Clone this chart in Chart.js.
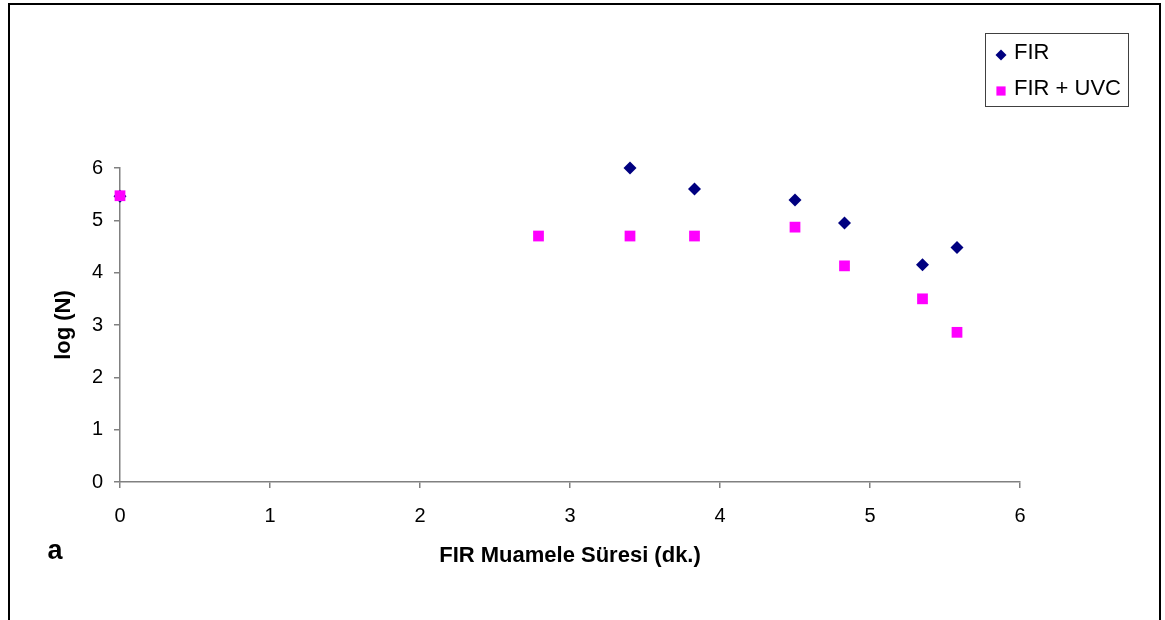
<!DOCTYPE html>
<html>
<head>
<meta charset="utf-8">
<script src="https://cdn.jsdelivr.net/npm/chart.js@4/dist/chart.umd.min.js"></script>
<style>
html,body{margin:0;padding:0;background:#fff;}
#wrap{width:1165px;height:620px;position:relative;}
</style>
</head>
<body>
<div id="wrap"><canvas id="scatterChart" width="1165" height="620"></canvas></div>
<script>
//FIR series
var firX=[0,3.4,3.83,4.5,4.83,5.35,5.58];
var firY=[5.46,6.0,5.6,5.39,4.95,4.15,4.48];
//FIR + UVC series
var uvcX=[0,2.79,3.4,3.83,4.5,4.83,5.35,5.58];
var uvcY=[5.47,4.7,4.7,4.7,4.87,4.13,3.5,2.86];
//ticks
var xTicks=[0,1,2,3,4,5,6];
var yTicks=[0,1,2,3,4,5,6];
var seriesNames=["FIR","FIR + UVC"];
var xTitle="FIR Muamele Süresi (dk.)";
var yTitle="log (N)";
var panelLabel="a";

var fontFamily="'Liberation Sans', Arial, sans-serif";

//x,y to points
var toPoints=function(xs,ys){
	var pts=[];
	for(var i=0;i<xs.length;i++){
		pts.push({x:xs[i],y:ys[i]});
	}
	return pts;
};

//frame, panel label and legend box
var framePlugin={
	id:'frame',
	afterDraw:function(chart){
		var ctx=chart.ctx;
		ctx.save();
		//outer frame
		ctx.strokeStyle="#000";
		ctx.lineWidth=2;
		ctx.strokeRect(9,4,1151,700);
		//panel label
		ctx.fillStyle="#000";
		ctx.font="bold 27px "+fontFamily;
		ctx.textAlign="center";
		ctx.textBaseline="middle";
		ctx.fillText(panelLabel,55,552);
		//legend box
		ctx.strokeStyle="#404040";
		ctx.lineWidth=1;
		ctx.strokeRect(985.5,33.5,143,73);
		ctx.font="22px "+fontFamily;
		ctx.textAlign="left";
		var rowsY=[53,89];
		var ds=chart.data.datasets;
		for(var i=0;i<ds.length;i++){
			ctx.fillStyle=ds[i].backgroundColor;
			ctx.strokeStyle=ds[i].backgroundColor;
			Chart.helpers.drawPoint(ctx,{pointStyle:ds[i].pointStyle,radius:i==0?5.5:6.5,borderWidth:0},1001,rowsY[i]+2);
			ctx.fillStyle="#000";
			ctx.fillText(ds[i].label,1014,rowsY[i]);
		}
		ctx.restore();
	}
};

var ctx=document.getElementById("scatterChart").getContext("2d");
var myChart=new Chart(ctx,{
	type:'scatter',
	data:{
		datasets:[
			{
				label:seriesNames[0],
				data:toPoints(firX,firY),
				pointStyle:'rectRot',
				pointRadius:6.5,
				backgroundColor:"#000080",
				borderColor:"#000080",
				borderWidth:0,
				order:2,
				clip:false
			},
			{
				label:seriesNames[1],
				data:toPoints(uvcX,uvcY),
				pointStyle:'rect',
				pointRadius:7.6,
				backgroundColor:"#ff00ff",
				borderColor:"#ff00ff",
				borderWidth:0,
				order:1,
				clip:false
			}
		]
	},
	plugins:[framePlugin],
	options:{
		responsive:false,
		animation:false,
		layout:{padding:{top:168,right:145,left:0,bottom:0}},
		plugins:{
			legend:{display:false},
			tooltip:{enabled:false}
		},
		scales:{
			x:{
				type:'linear',
				min:0,
				max:6,
				afterBuildTicks:function(scale){
					scale.ticks=xTicks.map(function(v){return {value:v};});
				},
				afterFit:function(scale){scale.height=138;},
				grid:{display:true,drawOnChartArea:false,drawTicks:true,tickLength:6,color:"#808080",lineWidth:1.5},
				border:{display:true,color:"#808080",width:1.5},
				ticks:{color:"#000",padding:16,maxRotation:0,font:{family:fontFamily,size:20}},
				title:{display:true,text:xTitle,color:"#000",padding:{top:51,bottom:51},font:{family:fontFamily,size:22,weight:'bold'}}
			},
			y:{
				type:'linear',
				min:0,
				max:6,
				afterBuildTicks:function(scale){
					scale.ticks=yTicks.map(function(v){return {value:v};});
				},
				afterFit:function(scale){scale.width=120;},
				grid:{display:true,drawOnChartArea:false,drawTicks:true,tickLength:6,color:"#808080",lineWidth:1.5},
				border:{display:true,color:"#808080",width:1.5},
				ticks:{color:"#000",padding:11,font:{family:fontFamily,size:20}},
				title:{display:true,text:yTitle,color:"#000",padding:{top:51,bottom:51},font:{family:fontFamily,size:22,weight:'bold'}}
			}
		}
	}
});
</script>
</body>
</html>
